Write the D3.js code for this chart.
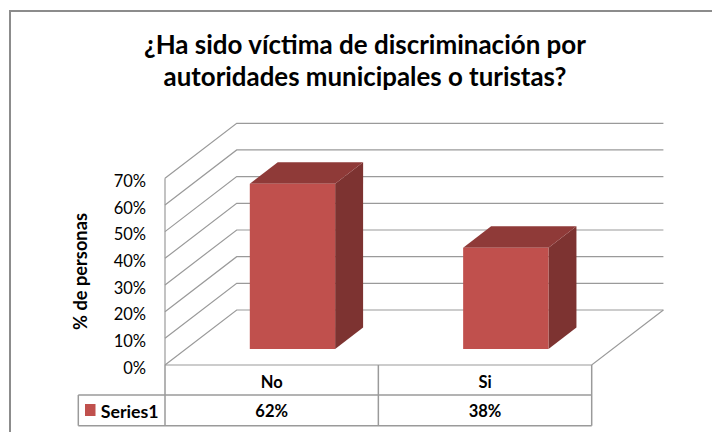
<!DOCTYPE html>
<html><head><meta charset="utf-8">
<script src="https://cdn.jsdelivr.net/npm/d3@7"></script>
<style>html,body{margin:0;padding:0;background:#fff}svg{display:block}</style>
</head><body>
<svg id="chart" width="712" height="432"></svg>
<script>
const categories = ["No", "Si"];
const values = [0.62, 0.38];
const valueLabels = ["62%", "38%"];
const seriesName = "Series1";
const yTicks = [0, 0.1, 0.2, 0.3, 0.4, 0.5, 0.6, 0.7];
const titleLines = ["¿Ha sido víctima de discriminación por", "autoridades municipales o turistas?"];
const yTitle = "% de personas";

const FONT = "Lato, 'Open Sans', sans-serif";
const svg = d3.select("#chart");
svg.append("rect").attr("x",0).attr("y",0).attr("width",712).attr("height",432).attr("fill","#fff");
// outer chart border
svg.append("rect").attr("x",10).attr("y",11).attr("width",720).attr("height",440)
  .attr("fill","none").attr("stroke","#8c8c8c").attr("stroke-width",2);

// 3D geometry
const xL = 165, xR = 591.7;
const DX = 71.7, DY = -55;
const y = d3.scaleLinear().domain([0, 0.7]).range([365, 178.3]);
const x = d3.scaleBand().domain(categories).range([xL, xR]).paddingInner(0.6).paddingOuter(0.3);
const P = (px, v, z) => [px + z * DX, y(v) + z * DY];

const grid = svg.append("g").attr("stroke","#9a9a9a").attr("stroke-width",1.2).attr("fill","none");
yTicks.forEach(t => {
  const a = P(xL, t, 0), b = P(xL, t, 1), c = P(xR, t, 1);
  grid.append("path").attr("d", d3.line()([a, b, c]));
});
// side wall front edge & floor
grid.append("path").attr("d", d3.line()([P(xL, 0.7, 0), P(xL, 0, 0)]));
grid.append("path").attr("d", d3.line()([P(xL, 0, 0), P(xR, 0, 0), P(xR, 0, 1)]));

// bars
const z0 = 0.29, z1 = 0.68;
const bars = svg.append("g");
categories.forEach((c, i) => {
  const v = values[i];
  const x0 = x(c), x1 = x(c) + x.bandwidth();
  const f = [P(x0, v, z0), P(x1, v, z0), P(x1, 0, z0), P(x0, 0, z0)];
  const top = [P(x0, v, z0), P(x1, v, z0), P(x1, v, z1), P(x0, v, z1)];
  const side = [P(x1, v, z0), P(x1, v, z1), P(x1, 0, z1), P(x1, 0, z0)];
  bars.append("path").attr("d", d3.line()(side) + "Z").attr("fill", "#7d3331");
  bars.append("path").attr("d", d3.line()(top) + "Z").attr("fill", "#8f3a38");
  bars.append("path").attr("d", d3.line()(f) + "Z").attr("fill", "#c0504d");
});

// y tick labels
svg.append("g").selectAll("text").data(yTicks).join("text")
  .attr("x", 146).attr("y", d => y(d) + 3).attr("dy", "0.35em")
  .attr("text-anchor", "end").attr("font-family", FONT).attr("font-size", 16.5).attr("fill", "#000")
  .text(d => d3.format(".0%")(d));

function fit(sel, target) {
  const w = sel.node().getComputedTextLength();
  const fs = parseFloat(sel.attr("font-size"));
  sel.attr("font-size", fs * target / w);
}

// y title
const yt = svg.append("text").attr("transform", "translate(87,271.5) rotate(-90)")
  .attr("text-anchor", "middle").attr("font-family", FONT).attr("font-weight", "bold")
  .attr("font-size", 15).attr("fill", "#000").text(yTitle);
fit(yt, 117);

// title
const tw = [442, 403], tyy = [54, 86];
titleLines.forEach((t, i) => {
  const s = svg.append("text").attr("x", 365).attr("y", tyy[i]).attr("text-anchor", "middle")
    .attr("font-family", FONT).attr("font-weight", "bold").attr("font-size", 23).attr("fill", "#000").text(t);
  fit(s, tw[i]);
});

// data table
const tb = svg.append("g").attr("stroke", "#9a9a9a").attr("stroke-width", 1.5).attr("fill", "none");
const rowTop = 365, rowMid = 395, rowBot = 425.7, legL = 78.3;
const colEdges = [xL].concat(categories.map(c => x(c) + x.bandwidth() / 2 + x.step() / 2));
tb.append("path").attr("d", d3.line()([[xL, rowTop], [xL, rowBot]]));
colEdges.slice(1).forEach(cx => tb.append("path").attr("d", d3.line()([[cx, rowTop], [cx, rowBot]])));
tb.append("path").attr("d", d3.line()([[legL, rowMid], [xR, rowMid]]));
tb.append("path").attr("d", d3.line()([[legL, rowBot], [xR, rowBot]]));
tb.append("path").attr("d", d3.line()([[legL, rowMid], [legL, rowBot]]));

const tt = svg.append("g").attr("font-family", FONT).attr("font-weight", "bold").attr("font-size", 16.5).attr("fill", "#000").attr("text-anchor", "middle");
categories.forEach((c, i) => {
  const cx = x(c) + x.bandwidth() / 2;
  tt.append("text").attr("x", cx).attr("y", (rowTop + rowMid) / 2 + 2).attr("dy", "0.35em").text(c);
  tt.append("text").attr("x", cx).attr("y", (rowMid + rowBot) / 2 + 1).attr("dy", "0.35em").text(valueLabels[i]);
});
svg.append("rect").attr("x", 85).attr("y", 404).attr("width", 10.5).attr("height", 12).attr("fill", "#c0504d");
const st = svg.append("text").attr("x", 100.7).attr("y", (rowMid + rowBot) / 2 + 1).attr("dy", "0.35em")
  .attr("font-family", FONT).attr("font-weight", "bold").attr("font-size", 15).attr("fill", "#000").text(seriesName);
fit(st, 58);
</script>
</body></html>
